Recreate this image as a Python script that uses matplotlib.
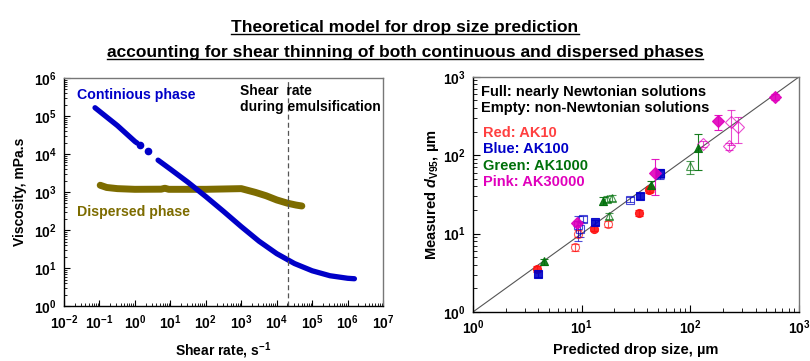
import matplotlib
matplotlib.use('Agg')
import matplotlib.pyplot as plt
import matplotlib.ticker as mticker
from matplotlib.lines import Line2D
import numpy as np

plt.rcParams['font.family'] = ['Liberation Sans', 'DejaVu Sans']
plt.rcParams['font.weight'] = 'bold'
plt.rcParams['axes.labelweight'] = 'bold'
plt.rcParams['mathtext.fontset'] = 'custom'
plt.rcParams['mathtext.rm'] = 'Liberation Sans:bold'
plt.rcParams['mathtext.bf'] = 'Liberation Sans:bold'
plt.rcParams['mathtext.sf'] = 'Liberation Sans:bold'
plt.rcParams['mathtext.it'] = 'Liberation Sans:bold:italic'
plt.rcParams['mathtext.default'] = 'rm'

### data: viscosity curves ###
# continuous phase, split where the curve has gaps (nan)
cont_x = [0.075, 0.32, 1.0, 1.15, np.nan,
          4.5, 10, 32, 100, 316, 1000, 3160, 1e4, 3.16e4, 1e5, 3.16e5, 1e6, 1.55e6]
cont_y = [1.65e5, 5.6e4, 2.14e4, 1.95e4, np.nan,
          6.9e3, 4.0e3, 1.78e3, 760, 310, 123, 51, 24, 13.2, 8.5, 6.3, 5.4, 5.25]
cont_dots_x = [1.39, 2.34]
cont_dots_y = [1.73e4, 1.2e4]
# dispersed phase
disp_x = [0.105, 0.16, 0.32, 1, 5.5, 7, 9, 100, 1000, 2500, 5000, 1e4, 2e4, 3.5e4, 5.1e4]
disp_y = [1510, 1320, 1230, 1180, 1190, 1260, 1180, 1180, 1230, 980, 800, 620, 510, 455, 430]
shear_emuls = 2.1e4

### data: measured vs predicted drop size ###
red_full_x = [3.9, 13.0, 33.5, 41.8]
red_full_y = [3.5, 11.6, 18.5, 35.5]
red_full_lo = [3.2, 10.7, 17.0, 33.0]
red_full_hi = [3.8, 12.5, 20.0, 38.0]
red_empty_x = [8.6, 9.2, 17.3, 42.5]
red_empty_y = [6.7, 10.0, 13.3, 37.0]
red_empty_lo = [6.0, 9.0, 12.0, 34.0]
red_empty_hi = [7.4, 11.0, 14.6, 40.0]

blue_full_x = [3.93, 13.3, 34.5, 53.0]
blue_full_y = [3.05, 14.0, 30.5, 60.0]
blue_full_lo = [2.8, 13.0, 28.0, 52.0]
blue_full_hi = [3.3, 15.0, 33.0, 66.0]
blue_empty_x = [9.3, 9.6, 10.3, 28.0, 52.0]
blue_empty_y = [12.8, 11.5, 15.5, 27.0, 57.0]
blue_empty_lo = [8.0, 9.0, 14.0, 25.0, 50.0]
blue_empty_hi = [17.0, 14.0, 17.0, 29.0, 64.0]

green_full_x = [4.45, 15.8, 43.5, 117.0]
green_full_y = [4.4, 26.0, 42.0, 125.0]
green_full_lo = [4.0, 23.0, 37.0, 65.0]
green_full_hi = [4.8, 29.0, 47.0, 185.0]
green_empty_x = [17.8, 17.0, 19.0, 100.0]
green_empty_y = [17.0, 27.5, 28.5, 72.0]
green_empty_lo = [15.5, 25.0, 26.0, 58.0]
green_empty_hi = [18.5, 30.0, 31.0, 85.0]

pink_full_x = [9.0, 47.5, 178.0, 600.0]
pink_full_y = [13.5, 60.0, 270.0, 550.0]
pink_full_lo = [12.5, 31.0, 210.0, 500.0]
pink_full_hi = [14.5, 90.0, 330.0, 600.0]
pink_empty_x = [130.0, 225.0, 237.0, 272.0]
pink_empty_y = [140.0, 130.0, 265.0, 228.0]
pink_empty_lo = [128.0, 118.0, 135.0, 142.0]
pink_empty_hi = [152.0, 142.0, 380.0, 307.0]

c_blue = '#0000c8'
c_olive = '#7d6c00'
c_red = '#ff1010'
c_green = '#00700a'
c_pink = '#e000bc'

fig = plt.figure(figsize=(8.1, 3.61), dpi=100)

# title, underlined
t1 = fig.text(0.5, 0.912, 'Theoretical model for drop size prediction', ha='center',
              va='baseline', fontsize=12.5)
t2 = fig.text(0.5, 0.843, 'accounting for shear thinning of both continuous and dispersed phases',
              ha='center', va='baseline', fontsize=12.5)


def style_axes(ax):
    for s in ['top', 'right']:
        ax.spines[s].set_color('#777777')
    for s in ['left', 'bottom']:
        ax.spines[s].set_color('black')
    for s in ax.spines.values():
        s.set_linewidth(1.0)
    ax.tick_params(which='major', direction='in', length=4, width=0.8, labelsize=10, pad=5)
    ax.tick_params(which='minor', direction='in', length=2, width=0.6)


def fmt(v, pos):
    return r'$10^{%d}$' % int(round(np.log10(v)))


def log_ticks(ax, n):
    for a in (ax.xaxis, ax.yaxis):
        a.set_major_locator(mticker.LogLocator(base=10, numticks=n))
        a.set_minor_locator(mticker.LogLocator(base=10, subs=np.arange(2, 10), numticks=n))
        a.set_major_formatter(mticker.FuncFormatter(fmt))
        a.set_minor_formatter(mticker.NullFormatter())


### left: viscosity vs shear rate ###
ax1 = fig.add_axes([0.079, 0.152, 0.394, 0.632])
ax1.set_xscale('log')
ax1.set_yscale('log')
ax1.set_xlim(1e-2, 1e7)
ax1.set_ylim(1, 1e6)
ax1.plot(disp_x, disp_y, color=c_olive, lw=5.0, solid_capstyle='round', solid_joinstyle='round')
ax1.plot(cont_x, cont_y, color=c_blue, lw=3.8, solid_capstyle='round', solid_joinstyle='round')
ax1.plot(cont_dots_x, cont_dots_y, 'o', color=c_blue, ms=4.5)
ax1.axvline(shear_emuls, color='#555555', lw=0.9, ls=(0, (4, 2.5)))
log_ticks(ax1, 20)
style_axes(ax1)
ax1.set_xlabel(r'Shear rate, s$^{-1}$', fontsize=10, labelpad=6)
ax1.set_ylabel('Viscosity, mPa.s', fontsize=10, labelpad=5)
ax1.text(0.04, 0.955, 'Continious phase', transform=ax1.transAxes, color=c_blue,
         fontsize=10.2, va='top')
ax1.text(0.04, 0.445, 'Dispersed phase', transform=ax1.transAxes, color=c_olive,
         fontsize=10.2, va='top')
ax1.text(0.55, 0.975, 'Shear  rate\nduring emulsification', transform=ax1.transAxes,
         color='black', fontsize=10, va='top', linespacing=1.2)

### right: measured vs predicted ###
ax2 = fig.add_axes([0.584, 0.136, 0.4025, 0.651])
ax2.set_xscale('log')
ax2.set_yscale('log')
ax2.set_xlim(1, 1000)
ax2.set_ylim(1, 1000)
ax2.plot([1, 1000], [1, 1000], color='#555555', lw=0.8)

groups = [
    (red_empty_x, red_empty_y, red_empty_lo, red_empty_hi, c_red, 'o', False),
    (blue_empty_x, blue_empty_y, blue_empty_lo, blue_empty_hi, c_blue, 's', False),
    (green_empty_x, green_empty_y, green_empty_lo, green_empty_hi, c_green, '^', False),
    (pink_empty_x, pink_empty_y, pink_empty_lo, pink_empty_hi, c_pink, 'D', False),
    (red_full_x, red_full_y, red_full_lo, red_full_hi, c_red, 'o', True),
    (blue_full_x, blue_full_y, blue_full_lo, blue_full_hi, c_blue, 's', True),
    (green_full_x, green_full_y, green_full_lo, green_full_hi, c_green, '^', True),
    (pink_full_x, pink_full_y, pink_full_lo, pink_full_hi, c_pink, 'D', True),
]
for gx, gy, lo, hi, col, mk, full in groups:
    gy = np.array(gy)
    yerr = [gy - np.array(lo), np.array(hi) - gy]
    ax2.errorbar(gx, gy, yerr=yerr, fmt=mk, color=col, ecolor=col, elinewidth=0.8,
                 capsize=3, capthick=0.8, ms=5.8, mew=0.8,
                 mfc=col if full else 'none', mec=col, alpha=0.9 if full else 0.7)

log_ticks(ax2, 10)
style_axes(ax2)
ax2.tick_params(which='major', length=5)
ax2.tick_params(which='minor', length=3)
ax2.set_xlabel('Predicted drop size, \u00b5m', fontsize=10.5, labelpad=4)
ax2.set_ylabel('Measured $\\mathit{d}_{V95}$, \u00b5m', fontsize=10.5, labelpad=2)

ax2.text(0.025, 0.965, 'Full: nearly Newtonian solutions\nEmpty: non-Newtonian solutions',
         transform=ax2.transAxes, fontsize=10.5, va='top', linespacing=1.2)
legend_labels = ['Red: AK10', 'Blue: AK100', 'Green: AK1000', 'Pink: AK30000']
legend_colors = ['#ff4040', c_blue, c_green, c_pink]
for i, (lab, col) in enumerate(zip(legend_labels, legend_colors)):
    ax2.text(0.03, 0.79 - i * 0.069, lab, transform=ax2.transAxes, fontsize=10.5,
             color=col, va='top')

# underline title lines
fig.canvas.draw()
r = fig.canvas.get_renderer()
inv = fig.transFigure.inverted()
for t in (t1, t2):
    bb = t.get_window_extent(renderer=r)
    (x0, y0), (x1, y1) = inv.transform([(bb.x0, bb.y0), (bb.x1, bb.y1)])
    fig.add_artist(Line2D([x0, x1], [y0 + 0.002, y0 + 0.002], transform=fig.transFigure,
                          color='black', lw=1.0))

fig.savefig('out.png', dpi=100)
